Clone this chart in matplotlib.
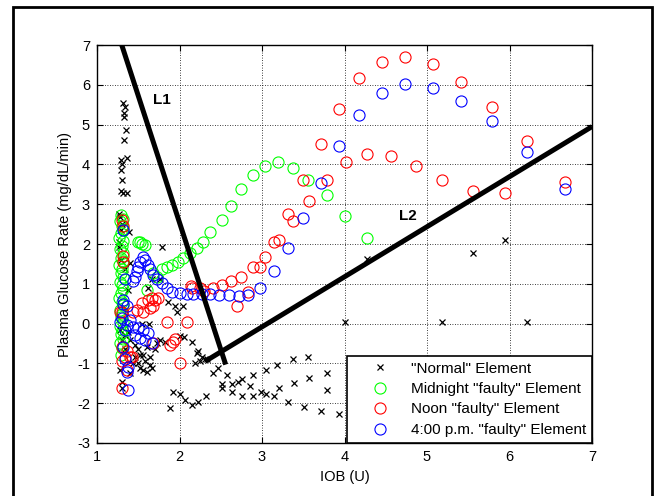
import matplotlib
matplotlib.use("Agg")
import matplotlib.pyplot as plt
from matplotlib.patches import Rectangle

plt.rcParams['font.family'] = ['Liberation Sans', 'DejaVu Sans']
plt.rcParams['axes.unicode_minus'] = False

# "Normal" element (black x)
normal_x = [1.31, 1.34, 1.33, 1.33, 1.35, 1.33, 1.29, 1.36, 1.30, 1.29, 1.30, 1.29, 1.31, 1.36,
            1.27, 1.28, 1.30, 1.29, 1.39, 1.27, 1.27, 1.79, 1.29, 1.40, 1.34, 1.67, 1.76, 1.62,
            1.38, 1.86, 1.94, 2.04, 1.97, 1.54, 1.63, 1.37, 2.00, 2.06, 2.15, 1.76, 1.73, 1.82,
            1.60, 1.70, 1.56, 1.64, 1.44, 1.50, 1.52, 1.56, 1.60, 1.40, 1.28, 1.30, 1.30,
            1.34, 1.40, 1.46, 1.50, 1.52, 1.46, 1.58, 1.64, 1.67, 1.34, 1.28, 1.30,
            2.21, 2.25, 2.33, 2.22, 2.27, 2.31, 2.19, 2.41, 2.47, 2.58, 2.52, 2.52, 2.64, 2.64,
            2.71, 2.76, 2.85, 2.89, 2.76, 2.89, 2.99, 3.05, 3.05, 3.15, 3.18, 3.21, 3.32, 3.38,
            3.39, 3.51, 3.56, 3.57, 3.72, 3.79, 3.79, 3.93, 2.32, 2.22, 2.15, 2.07, 2.01, 1.92,
            1.88, 4.27, 5.56, 5.95, 4.01, 5.18, 6.21]
normal_y = [5.55, 5.43, 5.30, 5.20, 4.87, 4.62, 4.12, 4.15, 4.00, 3.87, 3.62, 3.32, 3.29, 3.29,
            2.76, 2.69, 2.49, 2.36, 2.31, 2.06, 1.93, 1.93, 1.61, 1.53, 1.36, 1.11, 1.11, 0.90,
            0.85, 0.55, 0.43, 0.45, 0.30, 0.00, 0.00, -0.20, -0.30, -0.33, -0.45, -0.40, -0.48, -0.45,
            -0.60, -0.65, -0.78, -0.83, -0.98, -0.98, -1.11, -1.16, -1.21, -1.23, -1.16, -1.46, -1.61,
            -0.28, -0.40, -0.53, -0.65, -0.78, -0.85, -0.95, -1.03, -1.11, -0.65, -0.15, -0.40,
            -0.73, -0.95, -0.90, -0.70, -0.83, -0.90, -0.98, -1.23, -1.11, -1.28, -1.53, -1.61, -1.51, -1.73,
            -1.46, -1.38, -1.58, -1.28, -1.83, -1.83, -1.71, -1.76, -1.16, -1.83, -1.03, -1.61, -1.96, -0.90,
            -1.48, -2.09, -0.83, -1.36, -2.19, -1.23, -1.68, -2.26, -1.83, -1.96, -2.04, -1.91, -1.78, -1.73,
            -2.11, 1.63, 1.78, 2.09, 0.03, 0.03, 0.03]

# Midnight "faulty" element (green circles)
midnight_x = [1.29, 1.31, 1.28, 1.30, 1.32, 1.29, 1.27, 1.31, 1.30, 1.28, 1.32, 1.29, 1.31, 1.27,
              1.30, 1.29, 1.32, 1.28, 1.30, 1.31, 1.29, 1.27, 1.30, 1.32, 1.28, 1.30, 1.29, 1.31,
              1.28, 1.30, 1.29, 1.31, 1.28, 1.30, 1.29,
              1.50, 1.55, 1.58, 1.52, 1.61, 1.68, 1.73, 1.79, 1.85, 1.91, 1.98, 2.04, 2.13, 2.21,
              2.28, 2.37, 2.52, 2.62, 2.75, 2.89, 3.04, 3.19, 3.38, 3.56, 3.79, 4.01, 4.27]
midnight_y = [2.74, 2.64, 2.57, 2.45, 2.38, 2.27, 2.14, 2.07, 1.95, 1.88, 1.77, 1.66, 1.58, 1.47,
              1.36, 1.28, 1.17, 1.04, 0.97, 0.86, 0.77, 0.64, 0.55, 0.46, 0.35, 0.24, 0.17, 0.05,
              -0.06, -0.17, -0.26, -0.38, -0.49, -0.62, -0.80,
              2.04, 2.01, 1.98, 2.06, 0.85, 1.28, 1.18, 1.36, 1.43, 1.48, 1.56, 1.66, 1.78, 1.91,
              2.06, 2.29, 2.61, 2.96, 3.39, 3.74, 3.97, 4.07, 3.92, 3.62, 3.22, 2.71, 2.16]

# Noon "faulty" element (red circles)
noon_x = [4.45, 4.73, 5.07, 5.41, 5.79, 6.21, 6.67, 4.18, 3.93, 3.72, 4.02, 4.27, 4.56, 4.87,
          5.18, 5.56, 5.95, 3.79, 3.50, 3.57, 3.32, 3.38, 3.21, 3.15, 3.04, 2.89, 2.98, 2.75,
          2.62, 2.52, 2.41, 2.30, 2.14, 2.83, 2.70,
          1.67, 1.62, 1.70, 1.74, 1.55, 1.32, 1.32, 1.30, 1.44, 1.48, 1.85, 2.09, 2.01, 1.88,
          1.92, 1.95, 1.68, 1.30, 1.36, 1.40, 1.42, 1.34, 1.30, 1.32, 1.30, 1.28, 1.36, 1.30,
          2.15, 2.25, 1.64, 1.68, 1.56]
noon_y = [6.58, 6.71, 6.53, 6.08, 5.45, 4.60, 3.57, 6.16, 5.40, 4.52, 4.07, 4.27, 4.20, 3.97,
          3.62, 3.34, 3.27, 3.62, 3.62, 3.09, 2.76, 2.59, 2.11, 2.04, 1.68, 1.41, 1.41, 1.18,
          1.08, 0.98, 0.90, 0.83, 0.95, 0.80, 0.43,
          0.65, 0.60, 0.60, 0.65, 0.53, 1.71, 1.56, 0.28, 0.30, 0.33, 0.03, 0.03, -0.98, -0.53,
          -0.45, -0.38, -0.48, -0.60, -0.70, -0.83, -0.83, -0.85, -1.61, 2.44, 2.61, 0.28, -1.16, -0.95,
          0.90, 0.90, 0.40, 0.43, 0.30]

# 4:00 p.m. "faulty" element (blue circles)
pm4_x = [3.93, 4.18, 4.45, 4.73, 5.07, 5.41, 5.79, 6.21, 6.67, 3.72, 3.50, 3.32, 3.15, 2.98,
         2.83, 2.72, 2.60, 2.48, 2.37, 2.27, 2.16, 2.09, 2.01, 1.91, 1.85, 1.79, 1.73, 1.68,
         1.64, 1.62, 1.58, 1.56, 1.52, 1.50, 1.48, 1.46, 1.44, 1.32, 1.32, 1.36, 1.34, 1.32,
         1.38, 1.38, 1.36, 1.34,
         1.28, 1.36, 1.44, 1.50, 1.56, 1.62, 1.67, 1.32, 1.30, 1.40, 1.34, 1.46, 1.52, 1.58]
pm4_y = [4.45, 5.25, 5.80, 6.03, 5.93, 5.60, 5.08, 4.32, 3.39, 3.54, 2.66, 1.91, 1.31, 0.90,
         0.73, 0.70, 0.73, 0.73, 0.75, 0.75, 0.75, 0.75, 0.78, 0.80, 0.90, 1.03, 1.11, 1.23,
         1.36, 1.48, 1.61, 1.68, 1.56, 1.43, 1.31, 1.18, 1.06, 0.60, 0.48, 0.43, 1.11, 2.34,
         -1.66, -1.08, -1.21, -0.90,
         0.03, -0.03, -0.08, -0.10, -0.15, -0.23, -0.48, -0.58, 0.15, 0.10, -0.15, -0.28, -0.35, -0.40]

# separating lines
l1_x = [1.30, 2.56]
l1_y = [7.0, -1.03]
l2_x = [2.31, 7.0]
l2_y = [-0.95, 4.95]

W, H = 659, 496
fig = plt.figure(figsize=(W / 100, H / 100), dpi=100)
ax = fig.add_axes([97 / W, 1 - 443 / H, (592 - 97) / W, (443 - 45) / H])

ax.plot(normal_x, normal_y, 'x', color='k', ms=4.5, mew=0.9, label='"Normal" Element')
ax.plot(midnight_x, midnight_y, 'o', mfc='none', mec=(0, 1, 0), ms=8, mew=0.8,
        label='Midnight "faulty" Element')
ax.plot(noon_x, noon_y, 'o', mfc='none', mec=(1, 0, 0), ms=8, mew=0.8,
        label='Noon "faulty" Element')
ax.plot(pm4_x, pm4_y, 'o', mfc='none', mec=(0, 0, 1), ms=8, mew=0.8,
        label='4:00 p.m. "faulty" Element')

ax.plot(l1_x, l1_y, color='k', lw=3.6, solid_capstyle='butt')
ax.plot(l2_x, l2_y, color='k', lw=3.6, solid_capstyle='butt')
ax.text(1.79, 5.63, 'L1', fontsize=11, fontweight='bold', ha='center', va='center')
ax.text(4.77, 2.71, 'L2', fontsize=11, fontweight='bold', ha='center', va='center')

ax.set_xlim(1, 7)
ax.set_ylim(-3, 7)
ax.set_xticks(range(1, 8))
ax.set_yticks(range(-3, 8))
ax.grid(True, color='k', linestyle=(0, (1, 2)), linewidth=0.6)
ax.tick_params(direction='in', length=4, width=0.8, top=True, right=True,
               labelsize=10.5, pad=5)
for s in ax.spines.values():
    s.set_linewidth(1.0)

ax.set_xlabel('IOB (U)', fontsize=10.5, labelpad=4)
ax.set_ylabel('Plasma Glucose Rate (mg/dL/min)', fontsize=10.5, labelpad=4)

leg = ax.legend(loc='lower right', fontsize=11, fancybox=False, framealpha=1,
                edgecolor='k', borderaxespad=0, handletextpad=0.25, labelspacing=0.42,
                borderpad=0.4, handlelength=3.5)
leg.get_frame().set_linewidth(1.2)

fig.patches.append(Rectangle((13 / W, -0.05), (652 - 13) / W, 1.05 - 7 / H,
                             transform=fig.transFigure, fill=False, ec='k', lw=2))

fig.savefig('out.png', dpi=100)
